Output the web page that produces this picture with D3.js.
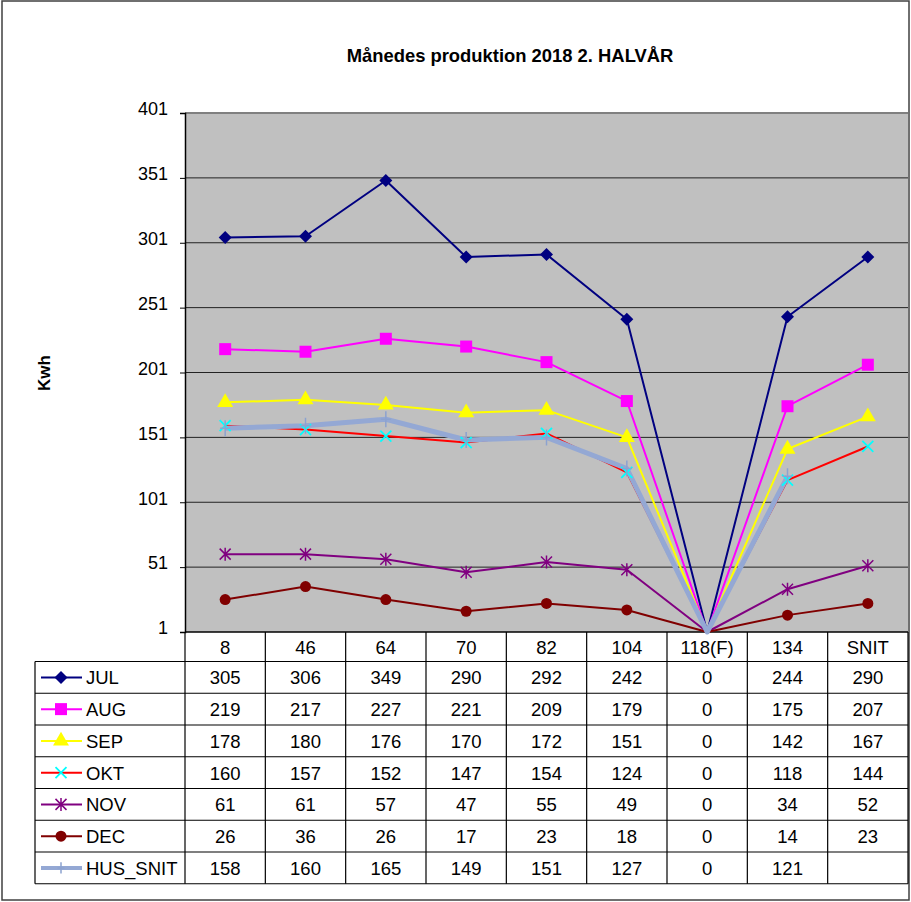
<!DOCTYPE html>
<html>
<head>
<meta charset="utf-8">
<style>
    body { margin: 0; background: #fff; }
    text { font-family: "Liberation Sans", Arial, sans-serif; fill: #000; }
    .tick text { font-size: 18px; }
    .cell { font-size: 18.5px; }
</style>
</head>
<body>
<svg width="911" height="902"></svg>
<script src="https://d3js.org/d3.v7.min.js"></script>
<script>
    var categories = ["8", "46", "64", "70", "82", "104", "118(F)", "134", "SNIT"];
    var jul = [305, 306, 349, 290, 292, 242, 0, 244, 290];
    var aug = [219, 217, 227, 221, 209, 179, 0, 175, 207];
    var sep = [178, 180, 176, 170, 172, 151, 0, 142, 167];
    var okt = [160, 157, 152, 147, 154, 124, 0, 118, 144];
    var nov = [61, 61, 57, 47, 55, 49, 0, 34, 52];
    var dec = [26, 36, 26, 17, 23, 18, 0, 14, 23];
    var husSnit = [158, 160, 165, 149, 151, 127, 0, 121, null];
    var yTicks = [1, 51, 101, 151, 201, 251, 301, 351, 401];

    var series = [
        {name: "JUL", values: jul, line: "#000080", marker: "diamond", mfill: "#000080", width: 2},
        {name: "AUG", values: aug, line: "#ff00ff", marker: "square", mfill: "#ff00ff", width: 2},
        {name: "SEP", values: sep, line: "#ffff00", marker: "triangle", mfill: "#ffff00", width: 2},
        {name: "OKT", values: okt, line: "#ff0000", marker: "x", mfill: "#00ffff", width: 2},
        {name: "NOV", values: nov, line: "#800080", marker: "star", mfill: "#800080", width: 2},
        {name: "DEC", values: dec, line: "#800000", marker: "circle", mfill: "#800000", width: 2},
        {name: "HUS_SNIT", values: husSnit, line: "#94a8d4", marker: "plus", mfill: "#8ca2d0", width: 5}
    ];

    var svg = d3.select("svg");
    var plotLeft = 185, plotRight = 908, plotTop = 113, plotBottom = 632;
    var rowH = 31.75, headH = 29.5, tableLeft = 35;

    // outer frame
    svg.append("rect").attr("x", 2).attr("y", 1).attr("width", 907).attr("height", 899)
        .attr("fill", "none").attr("stroke", "#404040").attr("stroke-width", 1.5);

    svg.append("text").attr("x", 510).attr("y", 62).attr("text-anchor", "middle")
        .style("font-size", "18.4px").style("font-weight", "bold")
        .text("Månedes produktion 2018 2. HALVÅR");

    svg.append("text").attr("transform", "translate(50,373) rotate(-90)")
        .attr("text-anchor", "middle").style("font-size", "17px").style("font-weight", "bold")
        .text("Kwh");

    var x = d3.scaleBand().domain(categories).range([plotLeft, plotRight]);
    var y = d3.scaleLinear().domain([1, 401]).range([plotBottom, plotTop]);

    svg.append("rect").attr("x", plotLeft).attr("y", plotTop)
        .attr("width", plotRight - plotLeft).attr("height", plotBottom - plotTop)
        .attr("fill", "#c0c0c0");
    svg.append("line").attr("x1", plotLeft).attr("x2", plotRight).attr("y1", plotTop).attr("y2", plotTop)
        .attr("stroke", "#808080").attr("stroke-width", 2);

    // gridlines
    svg.append("g").selectAll("line").data(yTicks.slice(1, -1)).join("line")
        .attr("x1", plotLeft).attr("x2", plotRight)
        .attr("y1", function(d) { return y(d); }).attr("y2", function(d) { return y(d); })
        .attr("stroke", "#222").attr("stroke-width", 1);

    var yAxis = svg.append("g").attr("transform", "translate(" + plotLeft + ",0)")
        .call(d3.axisLeft(y).tickValues(yTicks).tickSize(5).tickPadding(12));
    yAxis.select(".domain").attr("stroke", "#000").attr("stroke-width", 1.5);
    yAxis.selectAll(".tick line").attr("stroke", "#000");
    yAxis.selectAll(".tick text").attr("dy", "0.1em").style("font-family", "'Liberation Sans', Arial, sans-serif");

    svg.append("line").attr("x1", plotLeft).attr("x2", plotRight).attr("y1", plotBottom).attr("y2", plotBottom)
        .attr("stroke", "#000").attr("stroke-width", 1.5);

    function cx(i) { return x(categories[i]) + x.bandwidth() / 2; }
    function cy(v) { return y(Math.max(v, 1)); }

    var line = d3.line()
        .defined(function(d) { return d != null; })
        .x(function(d, i) { return cx(i); })
        .y(function(d) { return cy(d); });

    var lines = svg.append("g");
    series.forEach(function(s) {
        lines.append("path").datum(s.values)
            .attr("fill", "none").attr("stroke", s.line).attr("stroke-width", s.width)
            .attr("stroke-linejoin", "round")
            .attr("d", line);
    });

    function drawMarker(g, s, px, py, size) {
        var k = size || 1;
        if (s.marker === "diamond") {
            var d = 6.5 * k;
            g.append("path").attr("d", "M" + px + "," + (py - d) + "L" + (px + d) + "," + py +
                "L" + px + "," + (py + d) + "L" + (px - d) + "," + py + "Z")
                .attr("fill", s.mfill);
        } else if (s.marker === "square") {
            g.append("rect").attr("x", px - 6 * k).attr("y", py - 6 * k).attr("width", 12 * k).attr("height", 12 * k)
                .attr("fill", s.mfill);
        } else if (s.marker === "triangle") {
            g.append("path").attr("d", d3.symbol(d3.symbolTriangle, 110 * k * k)())
                .attr("transform", "translate(" + px + "," + py + ")").attr("fill", s.mfill);
        } else if (s.marker === "x") {
            var r = 5.5 * k;
            g.append("path").attr("d", "M" + (px - r) + "," + (py - r) + "L" + (px + r) + "," + (py + r) +
                "M" + (px - r) + "," + (py + r) + "L" + (px + r) + "," + (py - r))
                .attr("stroke", s.mfill).attr("stroke-width", 1.8);
        } else if (s.marker === "star") {
            var r2 = 5.5 * k;
            g.append("path").attr("d", "M" + (px - r2) + "," + (py - r2) + "L" + (px + r2) + "," + (py + r2) +
                "M" + (px - r2) + "," + (py + r2) + "L" + (px + r2) + "," + (py - r2) +
                "M" + px + "," + (py - r2 - 1) + "L" + px + "," + (py + r2 + 1))
                .attr("stroke", s.mfill).attr("stroke-width", 1.5);
        } else if (s.marker === "circle") {
            g.append("circle").attr("cx", px).attr("cy", py).attr("r", 5.5 * k).attr("fill", s.mfill);
        } else if (s.marker === "plus") {
            var r3 = 8 * k;
            g.append("path").attr("d", "M" + px + "," + (py - r3) + "L" + px + "," + (py + r3) +
                "M" + (px - 5 * k) + "," + py + "L" + (px + 5 * k) + "," + py)
                .attr("stroke", s.mfill).attr("stroke-width", 1.5);
        }
    }

    // markers below the axis minimum are clipped, as in the original
    var markers = svg.append("g");
    series.forEach(function(s) {
        s.values.forEach(function(v, i) {
            if (v == null || v < 1) return;
            drawMarker(markers, s, cx(i), cy(v));
        });
    });

    // data table
    var table = svg.append("g");
    var tableTop = plotBottom + headH;
    var tableBottom = tableTop + rowH * series.length;

    table.selectAll("text.head").data(categories).join("text")
        .attr("class", "cell head")
        .attr("x", function(d) { return x(d) + x.bandwidth() / 2; })
        .attr("y", plotBottom + headH / 2 + 7)
        .attr("text-anchor", "middle")
        .text(function(d) { return d; });

    series.forEach(function(s, r) {
        var ry = tableTop + r * rowH;
        var my = ry + rowH / 2;
        table.append("line").attr("x1", 41).attr("x2", 82).attr("y1", my).attr("y2", my)
            .attr("stroke", s.line).attr("stroke-width", s.width === 5 ? 4 : 2);
        drawMarker(table, s, 61, my, s.marker === "plus" ? 0.7 : 1);
        table.append("text").attr("class", "cell").attr("x", 86).attr("y", my + 7).text(s.name);
        s.values.forEach(function(v, i) {
            if (v == null) return;
            table.append("text").attr("class", "cell")
                .attr("x", cx(i)).attr("y", my + 7).attr("text-anchor", "middle").text(v);
        });
    });

    // table grid
    var grid = table.append("g").attr("stroke", "#000").attr("stroke-width", 1.2);
    d3.range(series.length + 1).forEach(function(r) {
        var ly = tableTop + r * rowH;
        grid.append("line").attr("x1", tableLeft).attr("x2", plotRight).attr("y1", ly).attr("y2", ly);
    });
    grid.append("line").attr("x1", tableLeft).attr("x2", tableLeft).attr("y1", tableTop).attr("y2", tableBottom);
    categories.forEach(function(c) {
        grid.append("line").attr("x1", x(c)).attr("x2", x(c)).attr("y1", plotBottom).attr("y2", tableBottom);
    });
    grid.append("line").attr("x1", plotRight).attr("x2", plotRight).attr("y1", plotBottom).attr("y2", tableBottom);
</script>
</body>
</html>
